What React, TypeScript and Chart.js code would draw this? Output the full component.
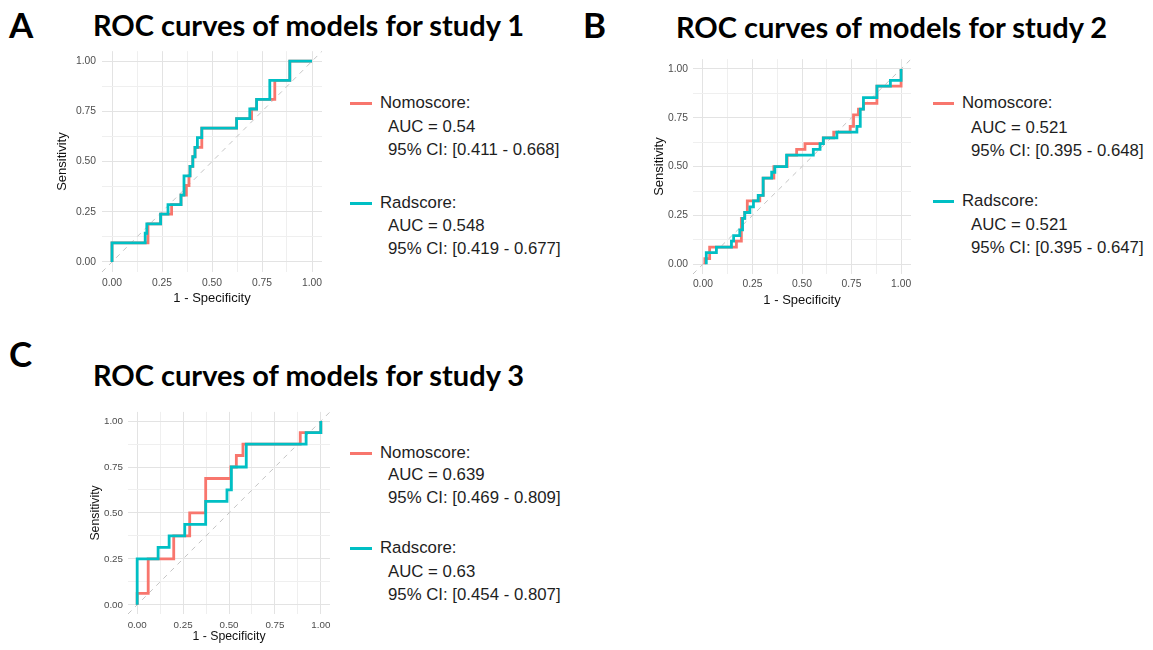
import React, { useEffect, useRef } from 'react';
import { Chart, registerables } from 'chart.js';

Chart.register(...registerables);

// ---------- shared axis data ----------
const gridTicks = [0, 0.125, 0.25, 0.375, 0.5, 0.625, 0.75, 0.875, 1];
const majorTicks = [0, 0.25, 0.5, 0.75, 1];
const tickLabels = ['0.00', '0.25', '0.50', '0.75', '1.00'];
const axisMin = -0.05;
const axisMax = 1.05;
const seriesNames = ['Nomoscore', 'Radscore'];

// ---------- study 1 ----------
const s1NomoFpr = [0, 0, 0.18, 0.18, 0.243, 0.243, 0.298, 0.298, 0.345, 0.345, 0.372, 0.372, 0.385, 0.385, 0.39, 0.39, 0.404, 0.404, 0.415, 0.415, 0.449, 0.449, 0.623, 0.623, 0.698, 0.698, 0.723, 0.723, 0.814, 0.814, 0.889, 0.889, 1];
const s1NomoTpr = [0, 0.095, 0.095, 0.19, 0.19, 0.238, 0.238, 0.286, 0.286, 0.333, 0.333, 0.381, 0.381, 0.429, 0.429, 0.476, 0.476, 0.524, 0.524, 0.571, 0.571, 0.667, 0.667, 0.714, 0.714, 0.762, 0.762, 0.81, 0.81, 0.905, 0.905, 1, 1];
const s1RadFpr = [0, 0, 0.166, 0.166, 0.174, 0.174, 0.243, 0.243, 0.28, 0.28, 0.345, 0.345, 0.36, 0.36, 0.39, 0.39, 0.404, 0.404, 0.415, 0.415, 0.427, 0.427, 0.449, 0.449, 0.623, 0.623, 0.689, 0.689, 0.723, 0.723, 0.789, 0.789, 0.889, 0.889, 1];
const s1RadTpr = [0, 0.095, 0.095, 0.143, 0.143, 0.19, 0.19, 0.238, 0.238, 0.286, 0.286, 0.333, 0.333, 0.429, 0.429, 0.476, 0.476, 0.524, 0.524, 0.571, 0.571, 0.619, 0.619, 0.667, 0.667, 0.714, 0.714, 0.762, 0.762, 0.81, 0.81, 0.905, 0.905, 1, 1];
const s1Legend = [
  ['AUC = 0.54', '95% CI: [0.411 - 0.668]'],
  ['AUC = 0.548', '95% CI: [0.419 - 0.677]'],
];

// ---------- study 2 ----------
const s2NomoFpr = [0.01, 0.01, 0.034, 0.034, 0.169, 0.169, 0.194, 0.194, 0.211, 0.211, 0.224, 0.224, 0.287, 0.287, 0.304, 0.304, 0.358, 0.358, 0.425, 0.425, 0.473, 0.473, 0.515, 0.515, 0.607, 0.607, 0.66, 0.66, 0.743, 0.743, 0.76, 0.76, 0.785, 0.785, 0.81, 0.81, 0.878, 0.878, 1, 1];
const s2NomoTpr = [0, 0.029, 0.029, 0.088, 0.088, 0.118, 0.118, 0.235, 0.235, 0.265, 0.265, 0.324, 0.324, 0.353, 0.353, 0.441, 0.441, 0.5, 0.5, 0.559, 0.559, 0.588, 0.588, 0.618, 0.618, 0.647, 0.647, 0.676, 0.676, 0.706, 0.706, 0.765, 0.765, 0.794, 0.794, 0.824, 0.824, 0.912, 0.912, 1];
const s2RadFpr = [0.017, 0.017, 0.068, 0.068, 0.144, 0.144, 0.155, 0.155, 0.186, 0.186, 0.2, 0.2, 0.211, 0.211, 0.237, 0.237, 0.255, 0.255, 0.279, 0.279, 0.304, 0.304, 0.347, 0.347, 0.363, 0.363, 0.422, 0.422, 0.557, 0.557, 0.591, 0.591, 0.608, 0.608, 0.676, 0.676, 0.777, 0.777, 0.794, 0.794, 0.81, 0.81, 0.878, 0.878, 0.946, 0.946, 1, 1];
const s2RadTpr = [0, 0.059, 0.059, 0.088, 0.088, 0.118, 0.118, 0.147, 0.147, 0.176, 0.176, 0.235, 0.235, 0.265, 0.265, 0.294, 0.294, 0.324, 0.324, 0.353, 0.353, 0.441, 0.441, 0.471, 0.471, 0.5, 0.5, 0.559, 0.559, 0.588, 0.588, 0.618, 0.618, 0.647, 0.647, 0.676, 0.676, 0.706, 0.706, 0.794, 0.794, 0.853, 0.853, 0.912, 0.912, 0.941, 0.941, 1];
const s2Legend = [
  ['AUC = 0.521', '95% CI: [0.395 - 0.648]'],
  ['AUC = 0.521', '95% CI: [0.395 - 0.647]'],
];

// ---------- study 3 ----------
const s3NomoFpr = [0, 0, 0.06, 0.06, 0.199, 0.199, 0.286, 0.286, 0.373, 0.373, 0.51, 0.51, 0.54, 0.54, 0.576, 0.576, 0.888, 0.888, 1, 1];
const s3NomoTpr = [0, 0.0625, 0.0625, 0.25, 0.25, 0.375, 0.375, 0.5, 0.5, 0.6875, 0.6875, 0.75, 0.75, 0.8125, 0.8125, 0.875, 0.875, 0.9375, 0.9375, 1];
const s3RadFpr = [0, 0, 0.114, 0.114, 0.174, 0.174, 0.259, 0.259, 0.373, 0.373, 0.489, 0.489, 0.513, 0.513, 0.594, 0.594, 0.92, 0.92, 1, 1];
const s3RadTpr = [0, 0.25, 0.25, 0.3125, 0.3125, 0.375, 0.375, 0.4375, 0.4375, 0.5625, 0.5625, 0.625, 0.625, 0.75, 0.75, 0.875, 0.875, 0.9375, 0.9375, 1];
const s3Legend = [
  ['AUC = 0.639', '95% CI: [0.469 - 0.809]'],
  ['AUC = 0.63', '95% CI: [0.454 - 0.807]'],
];

const panelLetters = ['A', 'B', 'C'];
const panelTitles = [
  'ROC curves of models for study 1',
  'ROC curves of models for study 2',
  'ROC curves of models for study 3',
];

// ---------- styles ----------
const SALMON = '#F8766D';
const TEAL = '#00BFC4';
const LABEL_FONT = '"Liberation Sans", Arial, sans-serif';
const HEAD_FONT = 'Lato, "Open Sans", sans-serif';

const toPoints = (xs: number[], ys: number[]) => xs.map((x, i) => ({ x, y: ys[i] }));

const diagonalPlugin = {
  id: 'diagonal',
  beforeDatasetsDraw(chart: any) {
    const { ctx, chartArea, scales } = chart;
    const x = scales.x;
    const y = scales.y;
    ctx.save();
    ctx.beginPath();
    ctx.rect(chartArea.left, chartArea.top, chartArea.right - chartArea.left, chartArea.bottom - chartArea.top);
    ctx.clip();
    ctx.strokeStyle = '#c4c4c4';
    ctx.lineWidth = 1;
    ctx.setLineDash([5, 5]);
    ctx.beginPath();
    ctx.moveTo(x.getPixelForValue(axisMin), y.getPixelForValue(axisMin));
    ctx.lineTo(x.getPixelForValue(axisMax), y.getPixelForValue(axisMax));
    ctx.stroke();
    ctx.restore();
  },
};

type Box = {
  left: number; top: number; w: number; h: number;
  yw: number; xh: number; padTop: number; padRight: number;
  tickSize: number; titleSize: number; yTickPad: number; xTickPad: number;
};

function RocPanel({ box, nomo, rad }: { box: Box; nomo: number[][]; rad: number[][] }) {
  const ref = useRef<HTMLCanvasElement>(null);
  useEffect(() => {
    if (!ref.current) return;
    const tickCb = (v: any) => {
      const i = majorTicks.indexOf(Number(v));
      return i >= 0 ? tickLabels[i] : '';
    };
    const gridColor = (c: any) =>
      c.tick && majorTicks.indexOf(c.tick.value) >= 0 ? '#e3e3e3' : '#efefef';
    const setTicks = (s: any) => {
      s.ticks = gridTicks.map((value) => ({ value }));
    };
    const tickFont = { family: LABEL_FONT, size: box.tickSize };
    const titleFont = { family: LABEL_FONT, size: box.titleSize };
    const chart = new Chart(ref.current, {
      type: 'line',
      data: {
        datasets: [
          {
            label: seriesNames[1],
            data: toPoints(rad[0], rad[1]),
            borderColor: TEAL,
            backgroundColor: TEAL,
            borderWidth: 2.8,
            pointRadius: 0,
            fill: false,
            tension: 0,
            order: 0,
          },
          {
            label: seriesNames[0],
            data: toPoints(nomo[0], nomo[1]),
            borderColor: SALMON,
            backgroundColor: SALMON,
            borderWidth: 2.8,
            pointRadius: 0,
            fill: false,
            tension: 0,
            order: 1,
          },
        ],
      },
      options: {
        animation: false,
        responsive: false,
        maintainAspectRatio: false,
        layout: { padding: { top: box.padTop, right: box.padRight, left: 0, bottom: 0 } },
        plugins: { legend: { display: false }, tooltip: { enabled: false } },
        scales: {
          x: {
            type: 'linear',
            min: axisMin,
            max: axisMax,
            afterBuildTicks: setTicks,
            afterFit: (s: any) => { s.height = box.xh; },
            ticks: { callback: tickCb, font: tickFont, color: '#4d4d4d', padding: box.xTickPad, maxRotation: 0, autoSkip: false },
            grid: { color: gridColor, drawTicks: false, lineWidth: 1 },
            border: { display: false },
            title: { display: true, text: '1 - Specificity', font: titleFont, color: '#111', padding: { top: 0, bottom: 0 } },
          },
          y: {
            type: 'linear',
            min: axisMin,
            max: axisMax,
            afterBuildTicks: setTicks,
            afterFit: (s: any) => { s.width = box.yw; },
            ticks: { callback: tickCb, font: tickFont, color: '#4d4d4d', padding: box.yTickPad, autoSkip: false },
            grid: { color: gridColor, drawTicks: false, lineWidth: 1 },
            border: { display: false },
            title: { display: true, text: 'Sensitivity', font: titleFont, color: '#111', padding: { top: 0, bottom: 0 } },
          },
        },
      } as any,
      plugins: [diagonalPlugin],
    });
    return () => chart.destroy();
  }, []);
  return (
    <canvas
      ref={ref}
      width={box.w}
      height={box.h}
      style={{ position: 'absolute', left: box.left, top: box.top, width: box.w, height: box.h }}
    />
  );
}

function LegendBlock({ x, keyW, indent, ys, lines }: { x: number; keyW: number; indent: number; ys: number[][]; lines: string[][] }) {
  const colors = [SALMON, TEAL];
  const items: any[] = [];
  for (let k = 0; k < 2; k++) {
    const [y0, y1, y2] = ys[k];
    items.push(
      <div key={'k' + k} style={{ position: 'absolute', left: x, top: y0 - 1.5, width: keyW, height: 3, background: colors[k] }} />
    );
    const textStyle = (left: number, y: number) => ({
      position: 'absolute' as const, left, top: y - 10, lineHeight: '20px', fontSize: 16.8,
      fontFamily: LABEL_FONT, color: '#1e1e1e', whiteSpace: 'nowrap' as const,
    });
    items.push(<div key={'n' + k} style={textStyle(x + keyW + 8, y0)}>{seriesNames[k] + ':'}</div>);
    items.push(<div key={'a' + k} style={textStyle(x + keyW + 8 + indent, y1)}>{lines[k][0]}</div>);
    items.push(<div key={'c' + k} style={textStyle(x + keyW + 8 + indent, y2)}>{lines[k][1]}</div>);
  }
  return <>{items}</>;
}

function Heading({ text, left, baseline, size }: { text: string; left: number; baseline: number; size: number }) {
  return (
    <div
      style={{
        position: 'absolute', left, top: baseline - 0.987 * size, fontFamily: HEAD_FONT, fontWeight: 700,
        fontSize: size, lineHeight: 'normal', color: '#000', whiteSpace: 'nowrap',
      }}
    >
      {text}
    </div>
  );
}

const boxA: Box = { left: 55, top: 39, w: 277, h: 267, yw: 47, xh: 34, padTop: 10, padRight: 10, tickSize: 10.3, titleSize: 13, yTickPad: 6, xTickPad: 5 };
const boxB: Box = { left: 652, top: 48, w: 269, h: 260, yw: 41, xh: 34, padTop: 10, padRight: 10, tickSize: 10.3, titleSize: 13, yTickPad: 5, xTickPad: 4 };
const boxC: Box = { left: 88, top: 401, w: 252, h: 243, yw: 40, xh: 30, padTop: 10, padRight: 10, tickSize: 9.8, titleSize: 12.3, yTickPad: 5, xTickPad: 5 };

export default function App() {
  return (
    <div style={{ position: 'absolute', left: 0, top: 0, width: 1153, height: 650, background: '#fff', overflow: 'hidden' }}>
      <Heading text={panelLetters[0]} left={9} baseline={38} size={35} />
      <Heading text={panelLetters[1]} left={583} baseline={37.5} size={35} />
      <Heading text={panelLetters[2]} left={9} baseline={367} size={35} />
      <Heading text={panelTitles[0]} left={93} baseline={36} size={29} />
      <Heading text={panelTitles[1]} left={676} baseline={37.5} size={29} />
      <Heading text={panelTitles[2]} left={93} baseline={386} size={29} />

      <RocPanel box={boxA} nomo={[s1NomoFpr, s1NomoTpr]} rad={[s1RadFpr, s1RadTpr]} />
      <RocPanel box={boxB} nomo={[s2NomoFpr, s2NomoTpr]} rad={[s2RadFpr, s2RadTpr]} />
      <RocPanel box={boxC} nomo={[s3NomoFpr, s3NomoTpr]} rad={[s3RadFpr, s3RadTpr]} />

      <LegendBlock x={350} keyW={22} indent={8} ys={[[103, 127, 150], [203, 226, 249]]} lines={s1Legend} />
      <LegendBlock x={933} keyW={21} indent={9} ys={[[103, 128, 151], [201, 225, 248]]} lines={s2Legend} />
      <LegendBlock x={350} keyW={22} indent={8} ys={[[453, 475, 498], [548, 572, 595]]} lines={s3Legend} />
    </div>
  );
}
